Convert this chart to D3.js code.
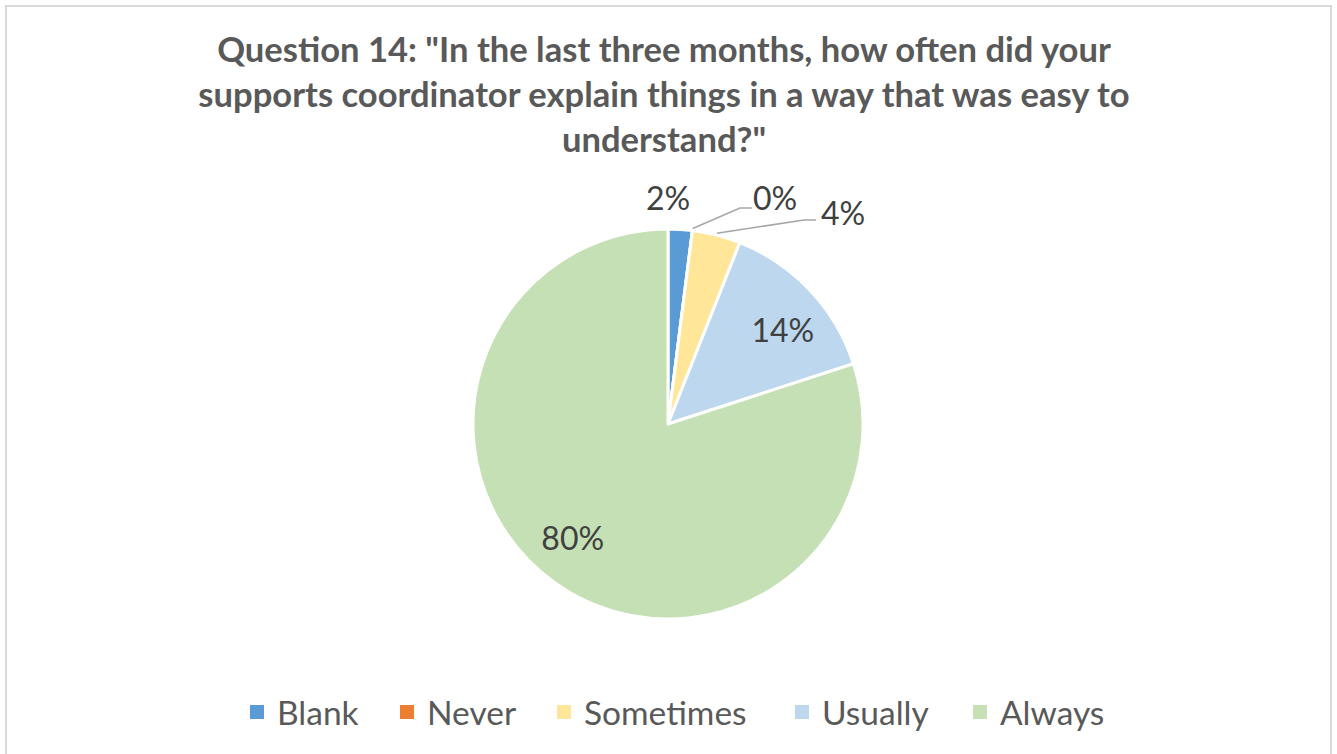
<!DOCTYPE html>
<html>
<head>
<meta charset="utf-8">
<script src="https://cdn.jsdelivr.net/npm/d3@7/dist/d3.min.js"></script>
<style>
  html, body { margin: 0; padding: 0; background: #fff; }
  svg { display: block; }
  text { font-family: Lato, "Open Sans", "Liberation Sans", sans-serif; }
</style>
</head>
<body>
<svg id="chart" width="1337" height="754"></svg>
<script>
// Survey answers and their shares (percent)
const categories = ["Blank", "Never", "Sometimes", "Usually", "Always"];
const values = [2, 0, 4, 14, 80];
const colors = ["#5b9bd5", "#ed7d31", "#ffe699", "#bdd7ee", "#c5e0b4"];
const titleLines = [
  "Question 14: \"In the last three months, how often did your",
  "supports coordinator explain things in a way that was easy to",
  "understand?\""
];

const svg = d3.select("#chart");

// chart area frame
svg.append("rect")
  .attr("x", 6).attr("y", 6)
  .attr("width", 1325).attr("height", 760)
  .attr("fill", "#fff")
  .attr("stroke", "#d9d9d9").attr("stroke-width", 2);

// title, sized so the first line spans the title block width
const titleY = [62, 107, 152];
const title = svg.append("g").selectAll("text")
  .data(titleLines)
  .join("text")
  .attr("x", 664)
  .attr("y", (d, i) => titleY[i])
  .attr("text-anchor", "middle")
  .attr("font-size", 30)
  .attr("font-weight", "bold")
  .attr("fill", "#595959")
  .text(d => d);
const w0 = title.node().getComputedTextLength();
title.attr("font-size", 30 * 894 / w0);

// pie
const cx = 668, cy = 424, R = 195;
const data = categories.map((c, i) => ({ name: c, value: values[i], color: colors[i] }));
const pie = d3.pie().value(d => d.value).sort(null);
const arcs = pie(data);
const arc = d3.arc().innerRadius(0).outerRadius(R);

const g = svg.append("g").attr("transform", `translate(${cx},${cy})`);
g.selectAll("path")
  .data(arcs)
  .join("path")
  .attr("d", arc)
  .attr("fill", d => d.data.color)
  .attr("stroke", "#fff")
  .attr("stroke-width", 3)
  .attr("stroke-linejoin", "round");

// data labels
const fmt = v => v + "%";
const labelFont = 32;
const labelColor = "#404040";

// large slices: label inside the slice, nudged along the slice (best-fit placement)
const insideShift = { "Usually": 4 * Math.PI / 180, "Always": 4 * Math.PI / 180 };
const rInside = R * 0.76;
arcs.forEach(a => {
  if (a.data.value >= 10) {
    const ang = (a.startAngle + a.endAngle) / 2 + (insideShift[a.data.name] || 0);
    const x = Math.sin(ang) * rInside, y = -Math.cos(ang) * rInside;
    g.append("text")
      .attr("x", x).attr("y", y + 12)
      .attr("text-anchor", "middle")
      .attr("font-size", labelFont)
      .attr("fill", labelColor)
      .text(fmt(a.data.value));
  }
});

// small slices: label outside, with leader lines for the crowded ones
const outside = {
  "Blank": { lx: 0, ly: -214, leader: null },
  "Never": { lx: 107, ly: -214, leader: [[740 - cx, 208 - cy], [752 - cx, 208 - cy]] },
  "Sometimes": { lx: 175, ly: -199, leader: [[804 - cx, 220 - cy], [816 - cx, 220 - cy]] }
};
arcs.forEach(a => {
  const o = outside[a.data.name];
  if (!o) return;
  if (o.leader) {
    const mid = (a.startAngle + a.endAngle) / 2;
    const px = Math.sin(mid) * (R + 2), py = -Math.cos(mid) * (R + 2);
    g.append("polyline")
      .attr("points", [[px, py], ...o.leader].map(p => p.join(",")).join(" "))
      .attr("fill", "none")
      .attr("stroke", "#a6a6a6")
      .attr("stroke-width", 1.5);
  }
  g.append("text")
    .attr("x", o.lx).attr("y", o.ly)
    .attr("text-anchor", "middle")
    .attr("font-size", labelFont)
    .attr("fill", labelColor)
    .text(fmt(a.data.value));
});

// legend
const legendX = [250, 400, 557, 795, 973];
const legend = svg.append("g").selectAll("g")
  .data(data)
  .join("g")
  .attr("transform", (d, i) => `translate(${legendX[i]},712)`);
legend.append("rect")
  .attr("x", 0).attr("y", -7)
  .attr("width", 14).attr("height", 14)
  .attr("fill", d => d.color);
legend.append("text")
  .attr("x", 27).attr("y", 13)
  .attr("font-size", 33.5)
  .attr("fill", "#595959")
  .text(d => d.name);
</script>
</body>
</html>
